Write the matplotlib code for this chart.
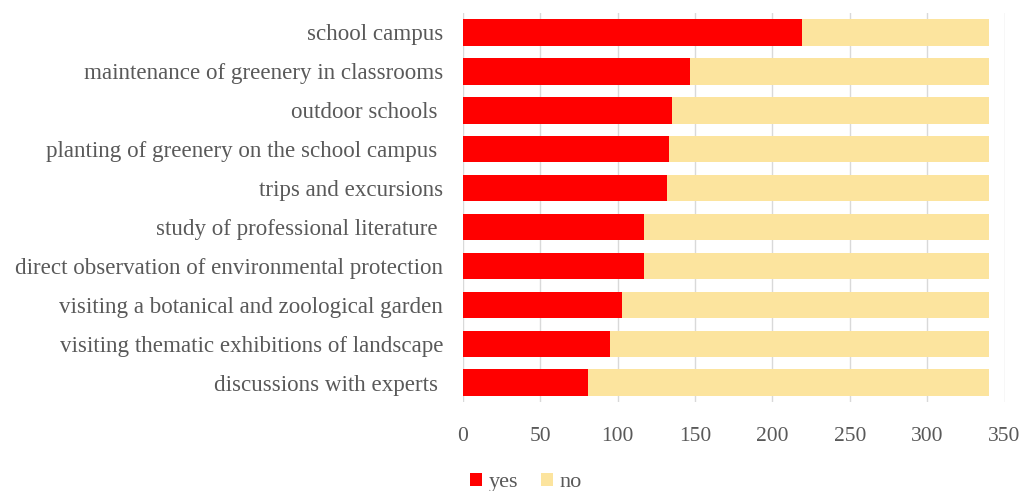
import matplotlib
matplotlib.use("Agg")
import matplotlib.pyplot as plt
import numpy as np

categories = [
    "school campus",
    "maintenance of greenery in classrooms",
    "outdoor schools ",
    "planting of greenery on the school campus ",
    "trips and excursions",
    "study of professional literature ",
    "direct observation of environmental protection",
    "visiting a botanical and zoological garden",
    "visiting thematic exhibitions of landscape",
    "discussions with experts ",
]
yes_values = [219, 147, 135, 133, 132, 117, 117, 103, 95, 81]
no_values = [121, 193, 205, 207, 208, 223, 223, 237, 245, 259]
series_names = ["yes", "no"]
x_ticks = [0, 50, 100, 150, 200, 250, 300, 350]

RED = "#FF0000"
YELLOW = "#FCE49E"
TEXT = "#595959"

plt.rcParams["font.family"] = ["Liberation Serif", "DejaVu Serif"]

fig = plt.figure(figsize=(10.24, 4.91), dpi=100)
ax = fig.add_axes([0.4519, 0.181, 0.981 - 0.4519, 0.9735 - 0.181])

y = np.arange(len(categories))
h = 0.68
ax.barh(y, yes_values, height=h, color=RED, label=series_names[0], zorder=3)
ax.barh(y, no_values, left=yes_values, height=h, color=YELLOW,
        label=series_names[1], zorder=3)

ax.set_yticks(y)
ax.set_yticklabels(categories, fontsize=16.6, color=TEXT)
ax.set_ylim(len(categories) - 0.5, -0.5)
ax.set_xlim(0, 350)
ax.set_xticks(x_ticks)
ax.set_xticklabels([str(t) for t in x_ticks], fontsize=15.5, color=TEXT)
ax.tick_params(axis="y", length=0, pad=14)
ax.tick_params(axis="x", length=0, pad=18)
ax.grid(axis="x", color="#D9D9D9", linewidth=1, zorder=0)
for s in ax.spines.values():
    s.set_visible(False)

fig.legend(loc="lower left", bbox_to_anchor=(470 / 1024, -0.003), ncol=2,
           frameon=False, fontsize=16, labelcolor=TEXT,
           borderpad=0, borderaxespad=0,
           handlelength=0.55, handleheight=0.55, handletextpad=0.3,
           columnspacing=1.0)

fig.savefig("out.png", dpi=100)
